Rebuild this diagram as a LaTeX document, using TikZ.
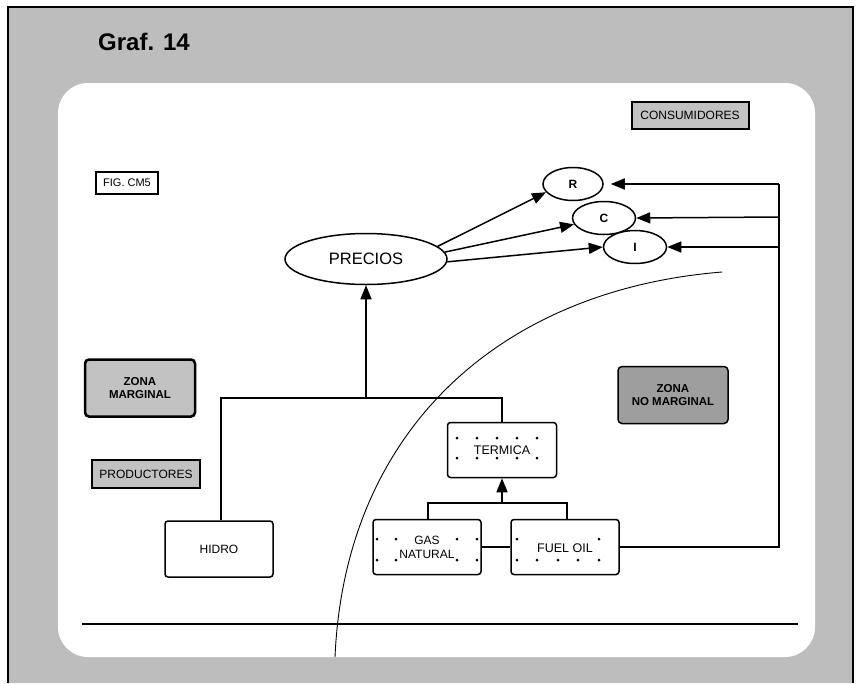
\documentclass[tikz,border=0pt]{standalone}
\usepackage{fontspec}
\setmainfont{Liberation Sans}
\usetikzlibrary{arrows.meta,shapes.geometric}
\definecolor{bggray}{gray}{0.74}
\definecolor{boxgray}{gray}{0.76}
\definecolor{darkgray}{gray}{0.62}
\tikzset{
  ln/.style={line width=1.5pt},
  arr/.style={ln,-{Triangle[length=14pt,width=11pt]}},
  oval/.style={ellipse,draw,line width=1.5pt,fill=white,inner sep=0pt},
  plainbox/.style={rectangle,rounded corners=3pt,draw,line width=1.5pt,fill=white,inner sep=0pt,font=\fontsize{12}{14}\selectfont},
  labelbox/.style={rectangle,draw,line width=2pt,fill=boxgray,inner sep=0pt,font=\fontsize{12}{14}\selectfont},
  zonebox/.style={rectangle,rounded corners=4pt,draw,fill=boxgray,inner sep=0pt,align=center,font=\bfseries\fontsize{11.5}{12.5}\selectfont},
  dot/.style={circle,fill=black,inner sep=0pt,minimum size=3pt}
}
\begin{document}
\begin{tikzpicture}[x=1pt,y=-1pt]
\useasboundingbox (0,0) rectangle (856,683);
% background frame
\fill[bggray] (8,7) rectangle (853,683);
\draw[line width=1.5pt] (8,683) -- (8,7) -- (853,7) -- (853,683);
\fill[white,rounded corners=30pt] (58,83) rectangle (815,657);
\node[font=\bfseries\fontsize{24}{28}\selectfont,anchor=center] (title) at (144,42) {Graf. 14};

% bottom rule
\coordinate (hl1) at (82,624);
\coordinate (hl2) at (798,624);
\draw[ln] (hl1) -- (hl2);

% boundary curve
\coordinate (cv1) at (722,272);
\coordinate (cv2) at (335,657);
\draw[line width=0.9pt] (cv1) .. controls (500,290) and (345,430) .. (cv2);

% label boxes
\node[labelbox,minimum width=117pt,minimum height=27pt] (cons) at (690,115) {CONSUMIDORES};
\node[rectangle,draw,line width=1.5pt,fill=white,inner sep=0pt,minimum width=62pt,minimum height=22pt,font=\fontsize{11}{13}\selectfont] (fig) at (127,183) {FIG. CM5};
\node[labelbox,minimum width=108pt,minimum height=28pt] (prod) at (146,474) {PRODUCTORES};
\node[zonebox,line width=2.5pt,minimum width=110pt,minimum height=57pt] (zm) at (140,388) {ZONA\\MARGINAL};
\node[zonebox,fill=darkgray,line width=1.5pt,minimum width=110pt,minimum height=57pt] (znm) at (673,395) {ZONA\\NO MARGINAL};

% ovals
\node[oval,minimum width=162pt,minimum height=51pt,font=\fontsize{16.5}{18}\selectfont] (P) at (366,259) {PRECIOS};
\node[oval,minimum width=60pt,minimum height=33pt,font=\bfseries\fontsize{12}{14}\selectfont] (R) at (573,184) {R};
\node[oval,minimum width=63pt,minimum height=33pt,font=\bfseries\fontsize{12}{14}\selectfont] (C) at (604,218) {C};
\node[oval,minimum width=63pt,minimum height=33pt,font=\bfseries\fontsize{12}{14}\selectfont] (I) at (635,247) {I};

% producer boxes
\node[plainbox,minimum width=108pt,minimum height=56pt] (hidro) at (219,549) {HIDRO};
\node[plainbox,minimum width=109pt,minimum height=55pt] (term) at (502,450) {};
\node[plainbox,minimum width=108pt,minimum height=55pt] (gas) at (427,547) {};
\node[plainbox,minimum width=108pt,minimum height=55pt] (fuel) at (565,547) {};

% dots
\foreach \x in {457,477,497,517,537} {
  \node[dot] at (\x,438) {};
  \node[dot] at (\x,458) {};
}
\foreach \x in {377,396,457,477} {
  \node[dot] at (\x,539) {};
  \node[dot] at (\x,560) {};
}
\foreach \x in {517,599} { \node[dot] at (\x,539) {}; }
\foreach \x in {517,537,558,578,599} { \node[dot] at (\x,560) {}; }

% texts over dots
\node[inner sep=1pt,font=\fontsize{12.5}{14}\selectfont] at (term.center) {TERMICA};
\node[inner sep=1pt,align=center,font=\fontsize{12}{14}\selectfont] at (gas.center) {GAS\\NATURAL};
\node[inner sep=1pt,font=\fontsize{12.5}{14}\selectfont] at ([yshift=-1pt]fuel.center) {FUEL OIL};

% price arrows
\draw[arr] (P.10) -- (R.197);
\draw[arr] (P.5) -- (C.192);
\draw[arr] (P.-2) -- (I.180);

% consumer feedback
\coordinate (vR) at (779,184);
\coordinate (vC) at (779,217);
\coordinate (vI) at (779,247);
\coordinate (vF) at (779,547);
\draw[ln] (fuel.east) -- (vF) -- (vR);
\draw[arr,shorten >=7pt] (vR) -- (R.east);
\draw[arr] (vC) -- (C.east);
\draw[arr] (vI) -- (I.east);

% producers bracket
\coordinate (b1) at (221,398);
\coordinate (bm) at (366,398);
\draw[ln] (hidro.north -| b1) -- (b1) -- (b1 -| term.north) -- (term.north);
\draw[arr] (bm) -- (P.south);

% thermal bracket
\coordinate (c1) at (428,503);
\coordinate (c2) at (567,503);
\draw[ln] (gas.north -| c1) -- (c1) -- (c2) -- (c2 |- fuel.north);
\draw[arr] (c1 -| term.south) -- (term.south);
\draw[ln] (gas.east) -- (fuel.west);
\end{tikzpicture}
\end{document}
